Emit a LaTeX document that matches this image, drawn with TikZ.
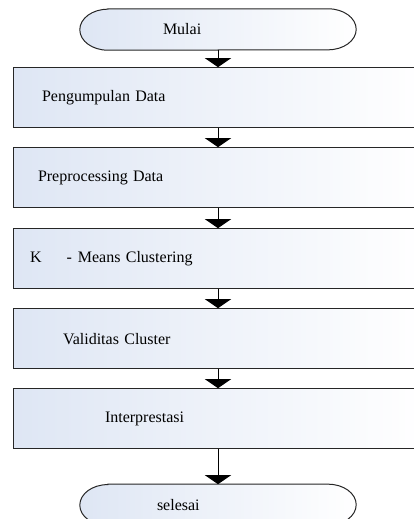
\documentclass[tikz,border=0pt]{standalone}
\usepackage{fontspec}
\setmainfont{Liberation Serif}
\usetikzlibrary{positioning}
\usetikzlibrary{arrows.meta}
\usetikzlibrary{backgrounds}
\definecolor{boxblue}{RGB}{222,230,244}

\begin{document}
\begin{tikzpicture}[x=1pt, y=1pt,
        >={Triangle[length=9pt, width=26pt]},
        font=\fontsize{16}{19}\selectfont,
        proc/.style={rectangle, draw=black!85, line width=1, minimum width=410pt, minimum height=60pt,
            inner sep=0pt, text width=410pt, align=left, left color=boxblue, right color=white},
        term/.style={rectangle, minimum width=220pt, minimum height=41pt,
            inner sep=0pt, text width=220pt, align=left},
        termline/.style={draw=black!85, line width=1, left color=boxblue, right color=white}]
        \useasboundingbox (0,0) rectangle (414,-519);
        % nodes %
        \node[term] (mulai) at (218,-29.5) {\hspace*{55pt}Mulai};
        \node[proc, below=17pt of mulai] (kumpul) {\hspace*{29pt}Pengumpulan Data};
        \node[proc, below=19pt of kumpul] (prepro) {\hspace*{25pt}Preprocessing Data};
        \node[proc, below=20pt of prepro] (kmeans) {\hspace*{17pt}K\hspace*{25pt}-\hspace*{6pt}Means Clustering};
        \node[proc, below=19pt of kmeans] (valid) {\hspace*{50pt}Validitas Cluster};
        \node[proc, below=19pt of valid] (interp) {\hspace*{92pt}Interprestasi};
        \node[term, below=35pt of interp] (selesai) {\hspace*{49pt}selesai};
        % terminator outlines %
        \begin{scope}[on background layer]
        \foreach \t in {mulai, selesai}
            \draw[termline] (\t.north west) -- (\t.north east)
                arc[start angle=90, end angle=-90, x radius=28, y radius=20.5]
                -- (\t.south west)
                arc[start angle=270, end angle=90, x radius=28, y radius=20.5] -- cycle;
        \end{scope}
        % edges %
        \draw[->, line width= 1] (mulai) -- (kumpul);
        \draw[->, line width= 1] (kumpul) -- (prepro);
        \draw[->, line width= 1] (prepro) -- (kmeans);
        \draw[->, line width= 1] (kmeans) -- (valid);
        \draw[->, line width= 1] (valid) -- (interp);
        \draw[->, line width= 1] (interp) -- (selesai);
      \end{tikzpicture}
\end{document}
